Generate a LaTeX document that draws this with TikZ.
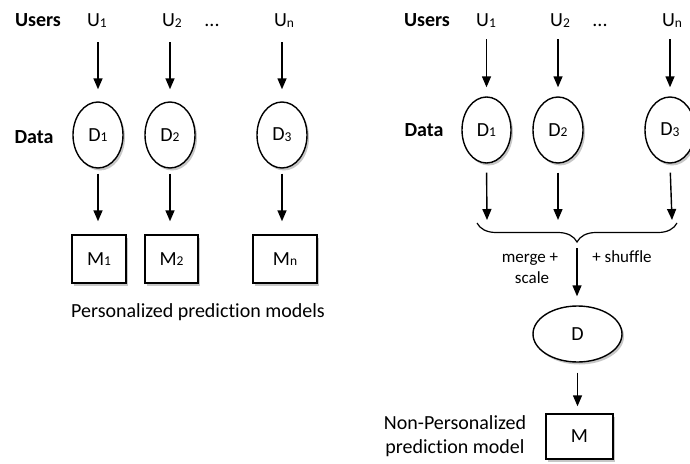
\documentclass[tikz,border=0pt]{standalone}
\usepackage{fontspec}
\setmainfont[Ligatures=NoCommon]{Carlito}
\usetikzlibrary{shapes.geometric,arrows.meta,decorations.pathreplacing,shadows}
\newcommand{\lowsub}[1]{{\fontsize{13.5}{14}\selectfont\raisebox{-0.8pt}{#1}}}
\begin{document}
\begin{tikzpicture}[x=1pt,y=-1pt,
  every node/.style={font=\fontsize{20}{23}\selectfont},
  lbl/.style={inner sep=0pt, text height=12pt, text depth=4pt},
  hdr/.style={lbl, font=\fontsize{20}{23}\selectfont\bfseries},
  small/.style={inner sep=0pt, text height=11pt, text depth=4pt, font=\fontsize{17}{20}\selectfont},
  shad/.style={drop shadow={shadow xshift=2pt, shadow yshift=-2.5pt, opacity=0.22, fill=black}},
  dat/.style={ellipse, draw, line width=1.4pt, fill=white, inner sep=0pt, shad},
  mdl/.style={rectangle, draw, line width=1.4pt, fill=white, inner sep=0pt, shad},
  arr/.style={line width=1.4pt, -{Triangle[width=9pt,length=11pt]}},
  brc/.style={line width=1.2pt, decorate, decoration={brace, mirror, amplitude=19pt}}
]
\useasboundingbox (0,0) rectangle (690,463);
\clip (0,0) rectangle (690,463);

% ---------- left panel ----------
\node[hdr] (usersL) at (38,23) {Users};
\node[lbl] (u1L) at (97,23) {U\lowsub{1}};
\node[lbl] (u2L) at (172,23) {U\lowsub{2}};
\node[lbl] (dotsL) at (212,23) {...};
\node[lbl] (unL) at (284,23) {U\lowsub{n}};

\node[hdr] (dataL) at (34,139) {Data};
\node[dat, minimum width=50pt, minimum height=66pt] (d1L) at (98,135) {D\lowsub{1}};
\node[dat, minimum width=50pt, minimum height=66pt] (d2L) at (170,135) {D\lowsub{2}};
\node[dat, minimum width=50pt, minimum height=66pt] (d3L) at (282,135) {D\lowsub{3}};

\node[mdl, minimum width=54pt, minimum height=48pt] (m1L) at (99,259) {M\lowsub{1}};
\node[mdl, minimum width=53pt, minimum height=48pt] (m2L) at (171.5,259) {M\lowsub{2}};
\node[mdl, minimum width=64pt, minimum height=48pt] (mnL) at (285,259) {M\lowsub{n}};

\node[lbl] (persL) at (198,313) {Personalized prediction models};

\foreach \u/\d in {u1L/d1L, u2L/d2L, unL/d3L}
  \draw[arr, shorten <=11pt, shorten >=12pt] (\d.north |- \u.south) -- (\d.north);
\foreach \d/\m in {d1L/m1L, d2L/m2L, d3L/mnL}
  \draw[arr, shorten <=5pt, shorten >=13pt] (\d.south) -- (\d.south |- \m.north);

% ---------- right panel ----------
\node[hdr] (usersR) at (427,23) {Users};
\node[lbl] (u1R) at (486,23) {U\lowsub{1}};
\node[lbl] (u2R) at (560,23) {U\lowsub{2}};
\node[lbl] (dotsR) at (600,23) {...};
\node[lbl] (unR) at (672,23) {U\lowsub{n}};

\node[hdr] (dataR) at (424,132) {Data};
\node[dat, minimum width=49pt, minimum height=66pt] (d1R) at (486.5,130) {D\lowsub{1}};
\node[dat, minimum width=50pt, minimum height=66pt] (d2R) at (558,130) {D\lowsub{2}};
\node[dat, minimum width=50pt, minimum height=66pt] (d3R) at (670,130) {D\lowsub{3}};

\foreach \u/\d in {u1R/d1R, u2R/d2R, unR/d3R}
  \draw[arr, shorten <=8pt, shorten >=9pt] (\d.north |- \u.south) -- (\d.north);

\coordinate (bl) at (477,223);
\coordinate (br) at (677,223);
\coordinate (bt) at (577,242);
\draw[brc] (bl) -- (br);

\coordinate (e1) at (487,220);
\coordinate (e2) at (558,220);
\coordinate (e3) at (672,220);
\foreach \d/\e in {d1R/e1, d2R/e2, d3R/e3}
  \draw[arr, shorten <=9pt] (\d.south) -- (\e);

\node[small] (merge) at (530,258.5) {merge +};
\node[small] (scale) at (532,279.5) {scale};
\node[small] (shuffle) at (622,258.5) {+ shuffle};

\node[dat, minimum width=89pt, minimum height=56pt] (dR) at (577.5,334) {D};
\node[mdl, minimum width=67pt, minimum height=45pt] (mR) at (579.5,436.5) {M};

\draw[arr, shorten <=6pt, shorten >=9pt] (bt) -- (bt |- dR.north);
\draw[arr, shorten <=10pt, shorten >=7pt] (dR.south) -- (dR.south |- mR.north);

\node[lbl] (np1) at (455,425) {Non-Personalized};
\node[lbl] (np2) at (455,449) {prediction model};
\end{tikzpicture}
\end{document}
